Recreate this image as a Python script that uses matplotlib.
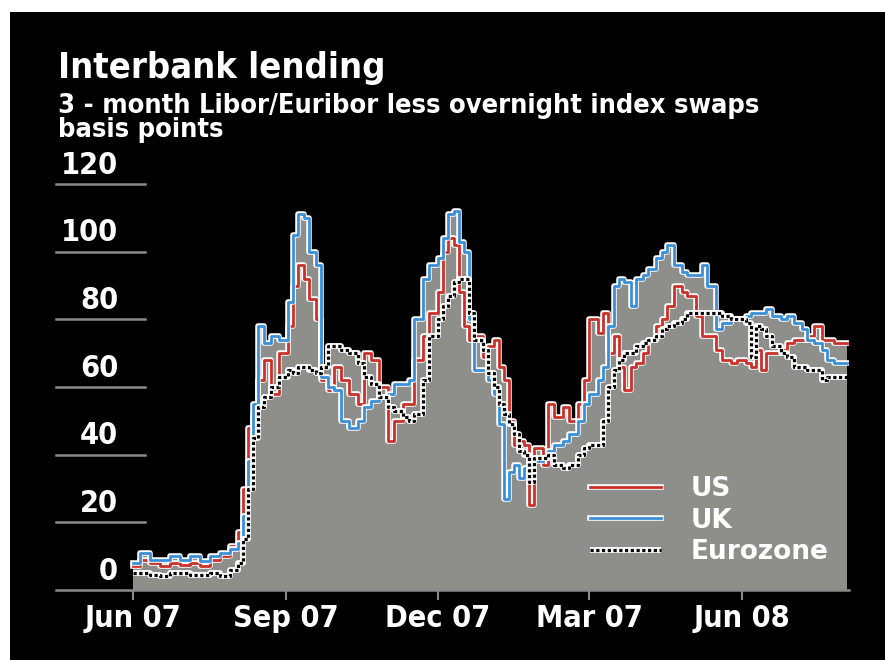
import numpy as np
import pandas as pd
import matplotlib
matplotlib.use('Agg')
import matplotlib.pyplot as plt
import matplotlib.patheffects as pe
from matplotlib.patches import Rectangle

# days since 1 Jun 2007, values in basis points
start = pd.Timestamp('2007-06-01')
days = [0, 4, 10, 16, 22, 28, 34, 40, 46, 52, 58, 63, 66, 69, 72, 75, 79, 83, 88, 93,
        96, 99, 103, 106, 110, 113, 117, 121, 125, 130, 135, 139, 143, 148, 153, 157,
        162, 166, 169, 174, 178, 183, 186, 189, 193, 196, 199, 202, 205, 210, 213, 217,
        220, 223, 226, 229, 232, 235, 238, 241, 246, 249, 253, 258, 262, 267, 271, 274,
        279, 282, 285, 289, 292, 295, 299, 302, 306, 309, 314, 318, 321, 325, 330, 333,
        338, 342, 345, 350, 354, 359, 363, 368, 371, 374, 377, 380, 384, 389, 393, 397,
        402, 405, 409, 414, 417, 421, 429]
us = [7, 9, 8, 7, 8, 7.5, 8, 7, 9, 10, 13, 17, 30, 48, 52, 62, 68, 58, 70, 78,
      90, 96, 92, 86, 80, 62, 59, 66, 62, 58, 55, 70, 68, 60, 44, 50,
      55, 55, 68, 75, 82, 88, 100, 104, 102, 88, 78, 74, 75, 69, 72, 74,
      66, 62, 50, 43, 44, 43, 25, 42, 37, 55, 51, 54, 50, 55, 62, 80,
      76, 82, 70, 75, 66, 59, 66, 67, 70, 74, 78, 80, 84, 90, 88, 87,
      81, 75, 75, 71, 68, 67, 68, 67, 66, 71, 65, 70, 70, 71, 73, 74,
      74, 75, 78, 74, 74, 73, 73]
uk = [8, 11, 9, 9, 10, 9, 10, 8.5, 10, 11, 12, 14, 22, 38, 55, 78, 73, 75, 74, 85,
      105, 111, 110, 100, 96, 63, 60, 59, 50, 48, 50, 54, 56, 57, 58, 61,
      61, 62, 80, 92, 96, 98, 104, 111, 112, 103, 100, 80, 65, 65, 62, 58,
      49, 27, 35, 37, 33, 36, 38, 38, 39, 41, 43, 44, 46, 50, 55, 58,
      62, 66, 78, 90, 92, 91, 84, 92, 93, 95, 98, 100, 102, 96, 94, 93,
      93, 96, 90, 77, 79, 80, 80, 81, 82, 82, 82, 83, 81, 80, 81, 79,
      77, 74, 73, 71, 68, 67, 67]
ez = [5, 5, 4.5, 4, 5, 5, 4.5, 4.5, 5, 4, 6, 8, 15, 30, 45, 54, 57, 60, 63, 65,
      64, 66, 66, 65, 64, 66, 72, 72, 71, 70, 67, 63, 61, 57, 54, 53,
      51, 50, 52, 62, 75, 80, 84, 87, 91, 92, 92, 82, 74, 71, 64, 60,
      55, 52, 49, 46, 41, 40, 32, 39, 39, 40, 37, 36, 37, 40, 42, 43,
      43, 50, 60, 65, 68, 70, 70, 72, 73, 74, 75, 77, 78, 79, 80, 82,
      82, 82, 82, 82, 81, 80, 80, 79, 69, 78, 77, 75, 72, 70, 69, 66,
      66, 65, 65, 62, 63, 63, 63]

tick_dates = ['2007-06-01', '2007-09-01', '2007-12-01', '2008-03-01', '2008-06-01']
tick_labels = ['Jun 07', 'Sep 07', 'Dec 07', 'Mar 07', 'Jun 08']
y_ticks = [0, 20, 40, 60, 80, 100, 120]

tick_days = [(pd.Timestamp(t) - start).days for t in tick_dates]
top = np.maximum.reduce([np.array(us), np.array(uk), np.array(ez)])

cond = dict(family='DejaVu Sans', stretch='condensed', fontweight='bold')
grid_col = '#8a8a8a'

fig = plt.figure(figsize=(8.85, 6.6), dpi=100)
fig.patch.set_facecolor('white')
fig.add_artist(Rectangle((10 / 885, 0), 875 / 885, 648 / 660, transform=fig.transFigure,
                         facecolor='black', edgecolor='none', zorder=0))

ax = fig.add_axes([56 / 885, 70 / 660, 793 / 885, 406 / 660])
ax.patch.set_visible(False)
ax.set_xlim(-46.2, 430)
ax.set_ylim(0, 120)

ax.fill_between(days, 0, top, step='post', color='#8e8e8a', lw=0, zorder=1)

outline = [pe.withStroke(linewidth=4.0, foreground='white')]
ax.plot(days, us, drawstyle='steps-post', color='#c9312a', lw=2.0, path_effects=outline,
        label='US', zorder=3)
ax.plot(days, uk, drawstyle='steps-post', color='#3b8fd8', lw=2.0, path_effects=outline,
        label='UK', zorder=4)
ax.plot(days, ez, drawstyle='steps-post', color='black', lw=2.3, ls=(0, (1, 0.8)),
        dash_capstyle='butt', label='Eurozone', zorder=5,
        path_effects=[pe.Stroke(linewidth=4.2, foreground='white',
                                dashes={'dash_offset': 0, 'dash_list': None}),
                      pe.Normal()])

# y labels sit above short grey rules on the left
ytr = ax.get_yaxis_transform()
for v in y_ticks:
    ax.text((118 - 56) / 793, v + 1.3, str(v), transform=ytr, ha='right', va='bottom',
            color='white', fontsize=22, **cond)
    if v > 0:
        ax.plot([0, (145 - 56) / 793], [v, v], transform=ytr, color=grid_col, lw=1.8,
                clip_on=False)

for s in ['top', 'left', 'right']:
    ax.spines[s].set_visible(False)
ax.spines['bottom'].set_color(grid_col)
ax.spines['bottom'].set_linewidth(1.8)
ax.set_yticks([])
ax.set_xticks(tick_days)
ax.set_xticklabels(tick_labels, color='white', fontsize=22, **cond)
ax.tick_params(axis='x', colors=grid_col, length=7, width=1.5, pad=3, labelcolor='white')

leg = ax.legend(loc='lower left', bbox_to_anchor=(590 / 885, 95 / 660),
                bbox_transform=fig.transFigure, frameon=False, handlelength=2.7,
                handletextpad=1.1, labelspacing=0.2, borderpad=0, borderaxespad=0,
                prop={'weight': 'bold', 'size': 19, 'family': 'DejaVu Sans'})
for t in leg.get_texts():
    t.set_color('white')

fig.text(58 / 885, 1 - 78 / 660, 'Interbank lending', color='white', fontsize=26,
         va='baseline', **cond)
fig.text(58 / 885, 1 - 113 / 660, '3 - month Libor/Euribor less overnight index swaps',
         color='white', fontsize=19.5, va='baseline', **cond)
fig.text(58 / 885, 1 - 137 / 660, 'basis points', color='white', fontsize=19.5,
         va='baseline', **cond)

fig.savefig('out.png', dpi=100, facecolor=fig.get_facecolor())
